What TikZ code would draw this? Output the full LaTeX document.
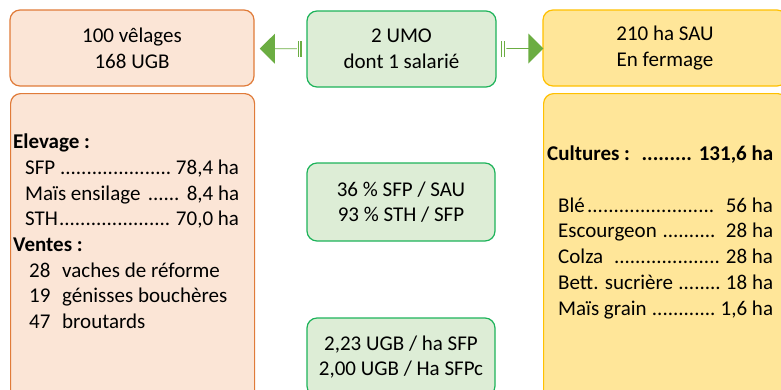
\documentclass[tikz,border=0pt]{standalone}
\usepackage{fontspec}
\setmainfont{Carlito}
\usepackage{xcolor}
\usetikzlibrary{shapes.arrows}

\definecolor{herdfill}{HTML}{FBE5D6}
\definecolor{herdline}{HTML}{E07B39}
\definecolor{workfill}{HTML}{DDEDD6}
\definecolor{workline}{HTML}{1DB35A}
\definecolor{landfill}{HTML}{FFE699}
\definecolor{landline}{HTML}{FFC000}
\definecolor{arrowgreen}{HTML}{6BAD42}

\newcommand{\leaderdots}{\cleaders\hbox{.}\hfill}

\begin{document}
\begin{tikzpicture}[
      x=1pt, y=-1pt,
      font=\fontsize{21}{25.7}\selectfont,
      box/.style={draw, rounded corners=10pt, line width=1.2pt, inner sep=0pt, align=center},
      herd/.style={box, draw=herdline, fill=herdfill},
      work/.style={box, draw=workline, fill=workfill},
      land/.style={box, draw=landline, fill=landfill},
      flow/.style={single arrow, fill=arrowgreen, draw=none, inner sep=0pt,
        minimum height=37pt, minimum width=30pt, single arrow head extend=7pt},
      list/.style={align=left, inner sep=0pt, anchor=base west}
    ]
    \useasboundingbox (0,0) rectangle (781,389);

    % top row
    \node[herd, minimum width=244pt, minimum height=76pt] (herd) at (132,48) {100 vêlages\\168 UGB};
    \node[work, minimum width=189pt, minimum height=76pt] (umo) at (401.5,49) {2 UMO\\dont 1 salarié};
    \node[land, minimum width=244pt, minimum height=76pt] (sau) at (665,48) {210 ha SAU\\En fermage};

    % block arrows
    \node[flow, shape border rotate=180] (toherd) at (278.5,48.7) {};
    \fill[arrowgreen] ([shift={(0.6,-8)}]toherd.tail) rectangle ++(1.6,16);
    \fill[arrowgreen] ([shift={(3.4,-8)}]toherd.tail) rectangle ++(1.4,16);
    \node[flow] (tosau) at (524.7,48.5) {};
    \fill[arrowgreen] ([shift={(-5.4,-8)}]tosau.tail) rectangle ++(1.4,16);
    \fill[arrowgreen] ([shift={(-2.4,-8)}]tosau.tail) rectangle ++(1.6,16);

    % lower boxes
    \node[herd, minimum width=244pt, minimum height=330pt, anchor=north west] (herdbox) at (10,93) {};
    \node[land, minimum width=244pt, minimum height=330pt, anchor=north west] (saubox) at (543,93) {};
    \node[work, minimum width=188pt, minimum height=78pt] (share) at (401,202) {36 \% SFP / SAU\\93 \% STH / SFP};
    \node[work, minimum width=188pt, minimum height=78pt] (load) at (401,357) {2,23 UGB / ha SFP\\2,00 UGB / Ha SFPc};

    % base = last line
    \node[list] (herdtext) at (13,328.6) {\textbf{Elevage :}\\
      \hspace*{12pt}\makebox[214pt]{SFP \leaderdots\ 78,4 ha}\\
      \hspace*{12pt}\makebox[214pt]{Maïs ensilage \leaderdots\ 8,4 ha}\\
      \hspace*{12pt}\makebox[214pt]{STH\leaderdots\ 70,0 ha}\\
      \textbf{Ventes :}\\
      \hspace*{16pt}\makebox[33pt][l]{28}vaches de réforme\\
      \hspace*{16pt}\makebox[33pt][l]{19}génisses bouchères\\
      \hspace*{16pt}\makebox[33pt][l]{47}broutards};

    \node[list] (sautext) at (547,315) {\makebox[226pt]{\bfseries Cultures :\ \ \leaderdots\ 131,6 ha}\\[25.7pt]
      \hspace*{11pt}\makebox[215pt]{Blé\leaderdots\ \ 56 ha}\\
      \hspace*{11pt}\makebox[215pt]{Escourgeon \leaderdots\ \ 28 ha}\\
      \hspace*{11pt}\makebox[215pt]{Colza \ \leaderdots\ 28 ha}\\
      \hspace*{11pt}\makebox[215pt]{Bett. sucrière \leaderdots\ 18 ha}\\
      \hspace*{11pt}\makebox[215pt]{Maïs grain \leaderdots\ 1,6 ha}};
  \end{tikzpicture}
\end{document}
